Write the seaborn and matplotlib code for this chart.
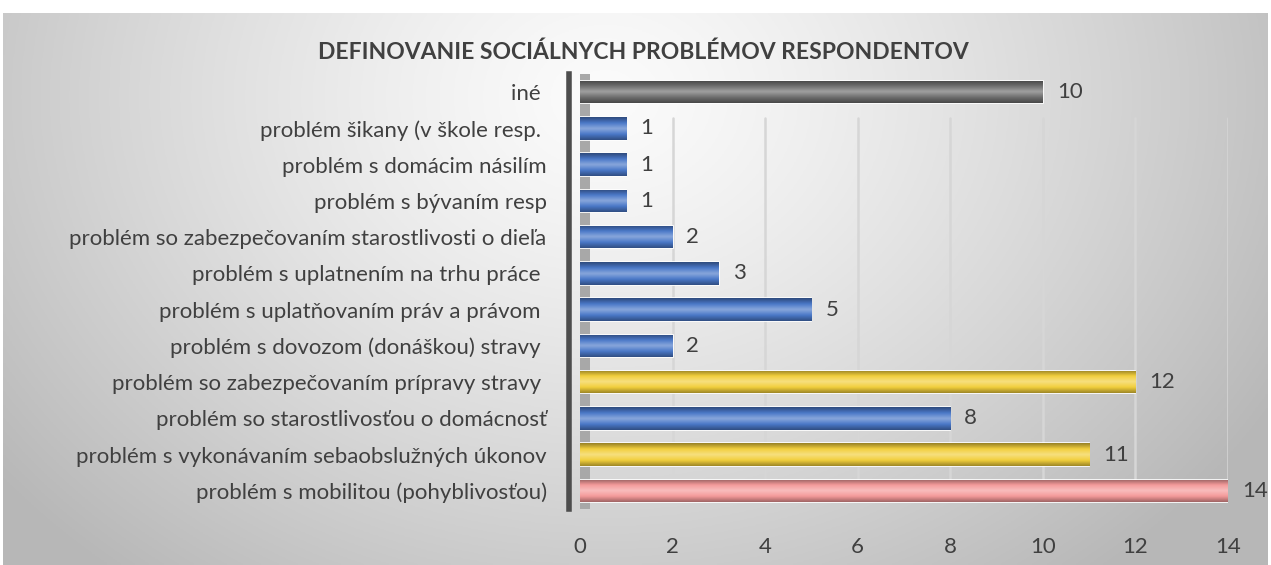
import numpy as np
import pandas as pd
import matplotlib
matplotlib.use("Agg")
import matplotlib.pyplot as plt
import seaborn as sns
from matplotlib.colors import LinearSegmentedColormap

categories = [
    "iné ",
    "problém šikany (v škole resp. ",
    "problém s domácim násilím",
    "problém s bývaním resp",
    "problém so zabezpečovaním starostlivosti o dieľa",
    "problém s uplatnením na trhu práce ",
    "problém s uplatňovaním práv a právom ",
    "problém s dovozom (donáškou) stravy ",
    "problém so zabezpečovaním prípravy stravy ",
    "problém so starostlivosťou o domácnosť",
    "problém s vykonávaním sebaobslužných úkonov",
    "problém s mobilitou (pohyblivosťou)",
]
values = [10, 1, 1, 1, 2, 3, 5, 2, 12, 8, 11, 14]
bar_colors = ["#6e6e6e", "#4a78c8", "#4a78c8", "#4a78c8", "#4a78c8", "#4a78c8",
              "#4a78c8", "#4a78c8", "#f2cf3c", "#4a78c8", "#f2cf3c", "#f49a9a"]
title = "DEFINOVANIE SOCIÁLNYCH PROBLÉMOV RESPONDENTOV"
xticks = [0, 2, 4, 6, 8, 10, 12, 14]

sns.set_theme(style="white")
plt.rcParams["font.family"] = ["Lato", "DejaVu Sans"]
TXT = "#404040"
FS = 16

W, H = 1271, 565
fig = plt.figure(figsize=(W / 100, H / 100), dpi=100)
fig.patch.set_facecolor("white")

# background radial gradient panel
bg = fig.add_axes([3 / W, 0, (W - 6) / W, (H - 13) / H], zorder=0)
yy, xx = np.mgrid[0:200, 0:400]
cx, cy = 190, 30
d = np.sqrt(((xx - cx) / 240.0) ** 2 + ((yy - cy) / 220.0) ** 2)
shade = np.clip(0.985 - 0.26 * d ** 1.3, 0.72, 0.985)
bg.imshow(np.dstack([shade] * 3), aspect="auto", extent=[0, 1, 0, 1], origin="upper")
bg.set_axis_off()

left, right = 580 / W, 1228 / W
top_px, bot_px = 74, 509
ax = fig.add_axes([left, 1 - bot_px / H, right - left, (bot_px - top_px) / H], zorder=2)
ax.patch.set_alpha(0)

df = pd.DataFrame({"kategoria": categories, "pocet": values})
sns.barplot(data=df, x="pocet", y="kategoria", hue="kategoria", palette=bar_colors,
            legend=False, width=0.62, ax=ax, saturation=1, edgecolor="white", linewidth=1.2)

ax.set_xlim(0, 14)
ax.set_ylim(11.5, -0.5)
ax.set_xticks(xticks)
ax.set_xlabel("")
ax.set_ylabel("")
for v in xticks[1:]:
    ax.axvline(v, ymin=0.02, ymax=0.9, color="#d6d6d6", lw=1.8, zorder=0)
ax.axvspan(-0.25, 0.22, color="#a8a8a8", zorder=0.5, lw=0)

# cylinder shading on bars
def shade_cmap(c):
    rgb = np.array(matplotlib.colors.to_rgb(c))
    dark = rgb * 0.62
    light = np.clip(rgb + (1 - rgb) * 0.35, 0, 1)
    return LinearSegmentedColormap.from_list("s", [dark, rgb, light, rgb, dark * 1.05])

grad = np.linspace(0, 1, 64).reshape(-1, 1)
for cont in ax.containers:
    for p in cont.patches:
        x0, y0 = p.get_x(), p.get_y()
        w, h = p.get_width(), p.get_height()
        im = ax.imshow(grad, cmap=shade_cmap(p.get_facecolor()), aspect="auto",
                       extent=[x0, x0 + w, y0 + h, y0], zorder=p.get_zorder() + 0.1,
                       interpolation="bicubic")
        im.set_clip_path(p)
    ax.bar_label(cont, padding=10, fontsize=FS, color=TXT)
ax.set_xlim(0, 14)
ax.set_ylim(11.5, -0.5)

for s in ["top", "right", "bottom"]:
    ax.spines[s].set_visible(False)
ax.spines["left"].set_color("#4d4d4d")
ax.spines["left"].set_linewidth(4)
ax.spines["left"].set_position(("outward", 8))
ax.tick_params(axis="x", length=0, pad=20, labelsize=FS, labelcolor=TXT)
ax.tick_params(axis="y", length=0, pad=16, labelsize=FS, labelcolor=TXT)

fig.text(643 / W, 1 - 52 / H, title, ha="center", va="center", fontsize=16.5,
         fontweight="bold", color=TXT)

fig.savefig("out.png", dpi=100)
